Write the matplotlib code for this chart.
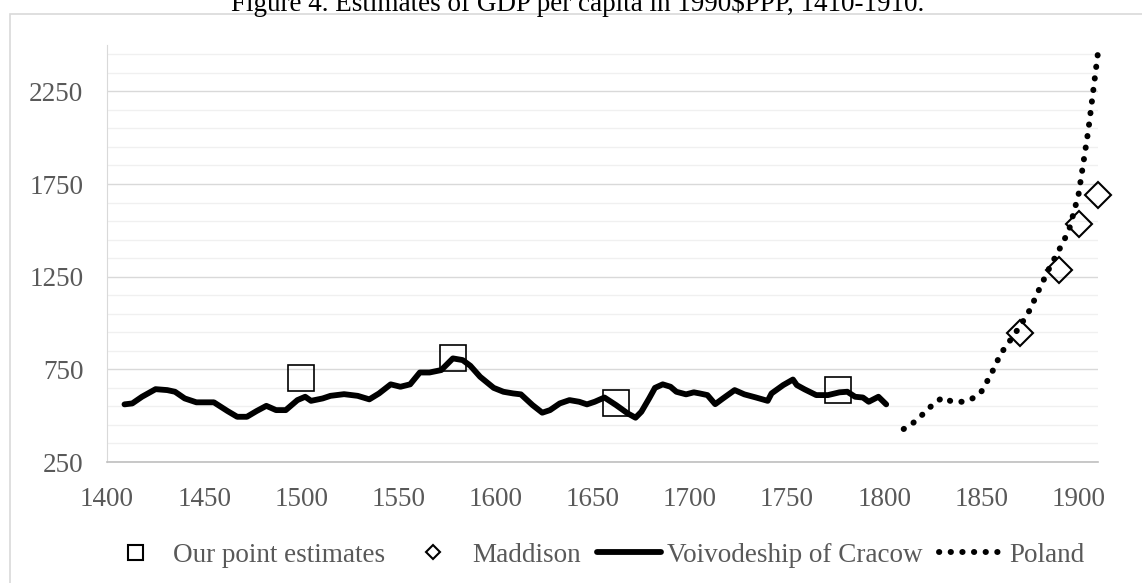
import numpy as np
import matplotlib
matplotlib.use("Agg")
import matplotlib.pyplot as plt
from matplotlib.lines import Line2D
from matplotlib.patches import Rectangle
from matplotlib.ticker import FixedLocator

# Voivodeship of Cracow
cracow_years = [1409, 1413, 1418, 1425, 1431, 1435, 1440, 1446, 1455, 1462,
                1467, 1472, 1477, 1482, 1487, 1492, 1498, 1502, 1505, 1511,
                1515, 1522, 1529, 1535, 1540, 1546, 1551, 1556, 1561, 1566,
                1572, 1578, 1583, 1587, 1592, 1599, 1604, 1609, 1613, 1619,
                1624, 1628, 1633, 1638, 1643, 1647, 1651, 1656, 1662, 1668,
                1672, 1675, 1679, 1682, 1686, 1690, 1693, 1698, 1702, 1705,
                1709, 1713, 1717, 1723, 1728, 1734, 1740, 1742, 1748, 1753,
                1755, 1759, 1765, 1771, 1777, 1781, 1785, 1789, 1792, 1797,
                1801]
cracow_gdp = [561, 566, 602, 643, 638, 629, 593, 572, 572, 525,
              494, 494, 525, 553, 530, 530, 584, 602, 580, 593,
              607, 616, 607, 588, 620, 669, 656, 669, 733, 733,
              746, 809, 800, 769, 710, 650, 629, 620, 615, 557,
              516, 530, 566, 584, 575, 561, 575, 598, 557, 512,
              489, 521, 593, 650, 669, 656, 629, 615, 626, 620,
              611, 562, 593, 638, 615, 598, 580, 620, 665, 695,
              665, 642, 611, 611, 626, 629, 602, 598, 575, 602,
              561]

# Poland
poland_years = [1810, 1815, 1820, 1825, 1830, 1835, 1840, 1845, 1850, 1855, 1860,
                1865, 1870, 1875, 1880, 1885, 1890, 1895, 1900, 1905, 1910]
poland_gdp = [428, 462, 509, 560, 598, 575, 575, 590, 630, 724, 835,
              909, 985, 1072, 1188, 1297, 1395, 1498, 1694, 2038, 2460]

# Our point estimates
point_years = [1500, 1578, 1662, 1776]
point_gdp = [704, 810, 569, 636]

# Maddison
maddison_years = [1870, 1890, 1900, 1910]
maddison_gdp = [947, 1284, 1536, 1690]

y_major = [250, 750, 1250, 1750, 2250]
x_ticks = [1400, 1450, 1500, 1550, 1600, 1650, 1700, 1750, 1800, 1850, 1900]

plt.rcParams['font.family'] = ['Liberation Serif', 'DejaVu Serif']
gray_txt = '#595959'
fs = 19.5

fig = plt.figure(figsize=(11.42, 5.83), dpi=100)
ax = fig.add_axes([107 / 1142, 1 - 462 / 583, (1098 - 107) / 1142, (462 - 45) / 583])

dot_style = (0, (0.05, 1.9))

ax.plot(cracow_years, cracow_gdp, color='black', lw=4.2, solid_joinstyle='round',
        solid_capstyle='round', zorder=3)
ax.plot(poland_years, poland_gdp, color='black', lw=4.3, linestyle=dot_style,
        dash_capstyle='round', zorder=3, clip_on=False)
ax.plot(point_years, point_gdp, linestyle='none', marker='s', ms=19.2,
        mfc='none', mec='black', mew=1.2, zorder=4, clip_on=False)
ax.plot(maddison_years, maddison_gdp, linestyle='none', marker='D', ms=13.7,
        mfc='none', mec='black', mew=1.5, zorder=4, clip_on=False)

ax.set_xlim(1400, 1910)
ax.set_ylim(250, 2500)
ax.set_xticks(x_ticks)
ax.yaxis.set_major_locator(FixedLocator(y_major))
minor = [v for v in range(350, 2500, 100) if v not in y_major]
ax.yaxis.set_minor_locator(FixedLocator(minor))

ax.grid(axis='y', which='major', color='#d9d9d9', lw=1.0)
ax.grid(axis='y', which='minor', color='#f0f0f0', lw=1.0)
ax.set_axisbelow(True)

ax.tick_params(axis='both', which='both', length=0, labelsize=fs, labelcolor=gray_txt)
ax.tick_params(axis='y', pad=17)
ax.tick_params(axis='x', pad=18)

for s in ['top', 'right']:
    ax.spines[s].set_visible(False)
ax.spines['left'].set_color('#d9d9d9')
ax.spines['bottom'].set_color('#bfbfbf')
ax.spines['bottom'].set_linewidth(1.2)

# legend
handles = [
    Line2D([], [], linestyle='none', marker='s', ms=10.8, mfc='none', mec='black', mew=1.5),
    Line2D([], [], linestyle='none', marker='D', ms=7.6, mfc='none', mec='black', mew=1.5),
    Line2D([], [], color='black', lw=4.2, solid_capstyle='round'),
    Line2D([], [], color='black', lw=4.3, linestyle=dot_style, dash_capstyle='round'),
]
labels = ['Our point estimates', 'Maddison', 'Voivodeship of Cracow', 'Poland']
fig.legend(handles, labels, loc='center', bbox_to_anchor=(0.52, 1 - 555 / 583),
           ncol=4, frameon=False, fontsize=fs, handlelength=2.35, handletextpad=0.25,
           columnspacing=0.6, labelcolor=gray_txt, borderpad=0)

# outer border and title
fig.patches.append(Rectangle((10 / 1142, -0.1), 1.2, 1 - 14 / 583 + 0.1,
                             transform=fig.transFigure, fill=False,
                             edgecolor='#d9d9d9', lw=1.2))
fig.text(578 / 1142, 1 - 11 / 583, 'Figure 4. Estimates of GDP per capita in 1990\\$PPP, 1410-1910.',
         ha='center', va='baseline', fontsize=fs, color='black')

fig.savefig('out.png', dpi=100)
